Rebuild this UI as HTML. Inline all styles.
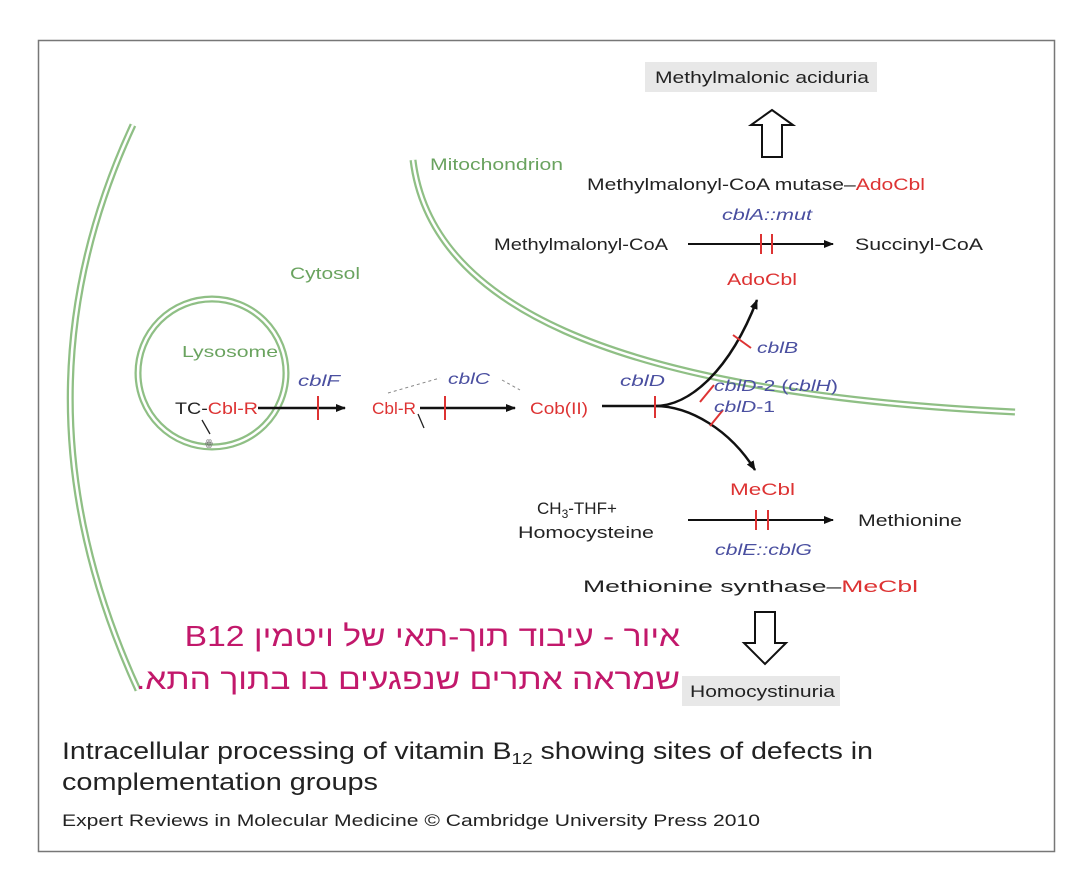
<!DOCTYPE html>
<html><head><meta charset="utf-8"><style>
body{margin:0;background:#fff;}
svg{display:block;font-family:"Liberation Sans",sans-serif;}
.he{position:absolute;right:400px;font-family:"Liberation Sans","DejaVu Sans",sans-serif;font-size:29px;color:#c2186b;direction:rtl;white-space:nowrap;transform:scaleX(1.16);transform-origin:right center;line-height:34px;}
</style></head><body>
<div style="position:relative;width:1080px;height:883px;">
<svg width="1080" height="883" viewBox="0 0 1080 883">
<rect x="38.5" y="40.5" width="1016" height="811" fill="#fff" stroke="#777" stroke-width="1.5"/>
<defs><marker id="a" markerWidth="10" markerHeight="8" refX="9" refY="4" orient="auto" markerUnits="userSpaceOnUse"><path d="M0,0 L10,4 L0,8 Z" fill="#111"/></marker></defs>
<g fill="none" stroke="#8fbf85" stroke-width="7"><path d="M133,125 Q5,400 138,690"/><path d="M413,160 C430,300 600,392 1015,412"/><circle cx="212" cy="373" r="74"/></g>
<g fill="none" stroke="#fff" stroke-width="2.5"><path d="M133,125 Q5,400 138,690"/><path d="M413,160 C430,300 600,392 1015,412"/><circle cx="212" cy="373" r="74"/></g>
<rect x="645" y="62" width="232" height="30" fill="#e8e8e8"/>
<text x="655" y="83" font-size="17" textLength="214" lengthAdjust="spacingAndGlyphs" fill="#222">Methylmalonic aciduria</text>
<path d="M762,157 V125 H751 L772,110 L793,125 H782 V157 Z" fill="#fff" stroke="#111" stroke-width="2"/>
<text x="587" y="190" font-size="17" textLength="338" lengthAdjust="spacingAndGlyphs" fill="#222">Methylmalonyl-CoA mutase–<tspan fill="#d33">AdoCbl</tspan></text>
<text x="430" y="170" font-size="17" textLength="133" lengthAdjust="spacingAndGlyphs" fill="#6aa35f">Mitochondrion</text>
<text x="722" y="220" font-size="16" font-style="italic" textLength="90" lengthAdjust="spacingAndGlyphs" fill="#4a4fa0">cblA::mut</text>
<text x="494" y="250" font-size="17" textLength="174" lengthAdjust="spacingAndGlyphs" fill="#222">Methylmalonyl-CoA</text>
<line x1="688" y1="244" x2="833" y2="244" stroke="#111" stroke-width="2" marker-end="url(#a)"/>
<g stroke="#d33" stroke-width="2"><line x1="761" y1="234" x2="761" y2="254"/><line x1="772" y1="234" x2="772" y2="254"/></g>
<text x="855" y="250" font-size="17" textLength="128" lengthAdjust="spacingAndGlyphs" fill="#222">Succinyl-CoA</text>
<text x="727" y="285" font-size="17" textLength="70" lengthAdjust="spacingAndGlyphs" fill="#d33">AdoCbl</text>
<text x="290" y="279" font-size="17" textLength="70" lengthAdjust="spacingAndGlyphs" fill="#6aa35f">Cytosol</text>
<text x="182" y="357" font-size="16" textLength="96" lengthAdjust="spacingAndGlyphs" fill="#6aa35f">Lysosome</text>
<text x="298" y="386" font-size="16" font-style="italic" textLength="42" lengthAdjust="spacingAndGlyphs" fill="#4a4fa0">cblF</text>
<text x="175" y="414" font-size="17" textLength="83" lengthAdjust="spacingAndGlyphs" fill="#222">TC-<tspan fill="#d33">Cbl-R</tspan></text>
<line x1="258" y1="408" x2="345" y2="408" stroke="#111" stroke-width="2.5" marker-end="url(#a)"/>
<line x1="318" y1="396" x2="318" y2="420" stroke="#d33" stroke-width="2"/>
<text x="372" y="414" font-size="17" textLength="44" lengthAdjust="spacingAndGlyphs" fill="#d33">Cbl-R</text>
<line x1="420" y1="408" x2="515" y2="408" stroke="#111" stroke-width="2.5" marker-end="url(#a)"/>
<line x1="445" y1="396" x2="445" y2="420" stroke="#d33" stroke-width="2"/>
<text x="530" y="414" font-size="17" textLength="58" lengthAdjust="spacingAndGlyphs" fill="#d33">Cob(II)</text>
<path d="M388,393 L440,378 M502,380 L520,390" stroke="#888" stroke-dasharray="3,3" fill="none"/>
<text x="448" y="384" font-size="16" font-style="italic" textLength="42" lengthAdjust="spacingAndGlyphs" fill="#4a4fa0">cblC</text>
<path d="M202,420 L210,434 M418,414 L424,428" stroke="#222" stroke-width="1.3"/>
<text x="205" y="446" font-size="9" fill="#666">ꙮ</text>
<text x="620" y="386" font-size="16" font-style="italic" textLength="45" lengthAdjust="spacingAndGlyphs" fill="#4a4fa0">cblD</text>
<path d="M602,406 H655 C690,406 730,370 757,300" stroke="#111" stroke-width="2.5" fill="none" marker-end="url(#a)"/>
<path d="M655,406 C690,406 730,430 755,470" stroke="#111" stroke-width="2.5" fill="none" marker-end="url(#a)"/>
<g stroke="#d33" stroke-width="2"><line x1="655" y1="396" x2="655" y2="418"/><line x1="733" y1="335" x2="751" y2="348"/><line x1="700" y1="402" x2="714" y2="385"/><line x1="710" y1="426" x2="723" y2="410"/></g>
<text x="757" y="353" font-size="16" font-style="italic" textLength="41" lengthAdjust="spacingAndGlyphs" fill="#4a4fa0">cblB</text>
<text x="714" y="391" font-size="16" textLength="124" lengthAdjust="spacingAndGlyphs" fill="#4a4fa0"><tspan font-style="italic">cblD</tspan>-2 (<tspan font-style="italic">cblH</tspan>)</text>
<text x="714" y="412" font-size="16" textLength="61" lengthAdjust="spacingAndGlyphs" fill="#4a4fa0"><tspan font-style="italic">cblD</tspan>-1</text>
<text x="730" y="495" font-size="17" textLength="65" lengthAdjust="spacingAndGlyphs" fill="#d33">MeCbl</text>
<text x="537" y="514" font-size="17" fill="#222">CH<tspan font-size="12" dy="4">3</tspan><tspan dy="-4">-THF+</tspan></text>
<text x="518" y="538" font-size="17" textLength="136" lengthAdjust="spacingAndGlyphs" fill="#222">Homocysteine</text>
<line x1="688" y1="520" x2="833" y2="520" stroke="#111" stroke-width="2" marker-end="url(#a)"/>
<g stroke="#d33" stroke-width="2"><line x1="756" y1="510" x2="756" y2="530"/><line x1="768" y1="510" x2="768" y2="530"/></g>
<text x="858" y="526" font-size="17" textLength="104" lengthAdjust="spacingAndGlyphs" fill="#222">Methionine</text>
<text x="715" y="555" font-size="16" font-style="italic" textLength="97" lengthAdjust="spacingAndGlyphs" fill="#4a4fa0">cblE::cblG</text>
<text x="583" y="592" font-size="17" textLength="335" lengthAdjust="spacingAndGlyphs" fill="#222">Methionine synthase–<tspan fill="#d33">MeCbl</tspan></text>
<path d="M755,612 V643 H744 L765,664 L786,643 H775 V612 Z" fill="#fff" stroke="#111" stroke-width="2"/>
<rect x="682" y="676" width="158" height="30" fill="#e8e8e8"/>
<text x="690" y="697" font-size="17" textLength="145" lengthAdjust="spacingAndGlyphs" fill="#222">Homocystinuria</text>
<text x="62" y="759" font-size="24" textLength="811" lengthAdjust="spacingAndGlyphs" fill="#222">Intracellular processing of vitamin B<tspan font-size="16" dy="5">12</tspan><tspan dy="-5"> showing sites of defects in</tspan></text>
<text x="62" y="790" font-size="24" textLength="316" lengthAdjust="spacingAndGlyphs" fill="#222">complementation groups</text>
<text x="62" y="826" font-size="17" textLength="698" lengthAdjust="spacingAndGlyphs" fill="#222">Expert Reviews in Molecular Medicine © Cambridge University Press 2010</text>
</svg>
<div class="he" style="top:620px;">איור - עיבוד תוך-תאי של ויטמין B12</div>
<div class="he" style="top:663px;">שמראה אתרים שנפגעים בו בתוך התא.</div>
</div>
</body></html>
